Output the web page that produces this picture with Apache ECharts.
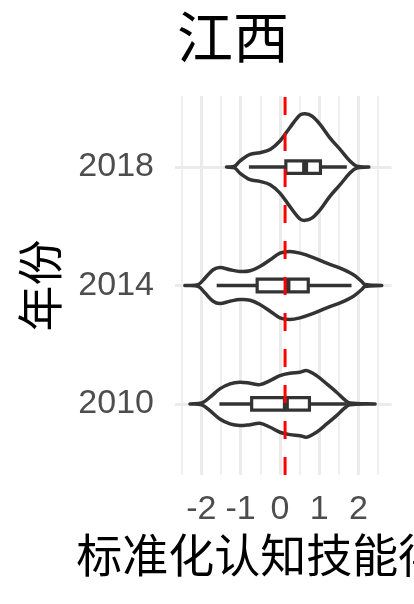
<!DOCTYPE html>
<html>
<head>
<meta charset="utf-8">
<script src="https://cdn.jsdelivr.net/npm/echarts@6/dist/echarts.min.js"></script>
<style>
html,body{margin:0;padding:0;background:#fff;}
#chart{width:414px;height:604px;}
</style>
</head>
<body>
<div id="chart"></div>
<script>
// ---- data ----
const years = ['2010', '2014', '2018'];
const yearPos = [1, 2, 3];
const titleText = '江西';
const xName = '标准化认知技能得分';
const yName = '年份';
const xTicks = [-2, -1, 0, 1, 2];
const xMinorTicks = [-2.5, -1.5, -0.5, 0.5, 1.5, 2.5];
const refValue = 0.13;

// violin outlines: score positions and half-widths (in category units)
const violinX2010 = [-2.29, -1.99, -1.78, -1.53, -1.27, -1.02, -0.76, -0.51, -0.25, 0, 0.25, 0.51, 0.68, 0.93, 1.19, 1.44, 1.65, 1.78, 2.42];
const violinW2010 = [0, 0.008, 0.057, 0.127, 0.169, 0.183, 0.175, 0.163, 0.197, 0.239, 0.259, 0.268, 0.281, 0.239, 0.169, 0.099, 0.034, 0.008, 0];
const violinX2014 = [-2.42, -2.08, -1.91, -1.70, -1.53, -1.27, -1.02, -0.76, -0.51, -0.25, 0, 0.25, 0.51, 0.85, 1.19, 1.53, 1.87, 2.08, 2.16, 2.59];
const violinW2014 = [0, 0.008, 0.062, 0.133, 0.152, 0.133, 0.118, 0.124, 0.160, 0.217, 0.273, 0.287, 0.273, 0.236, 0.188, 0.146, 0.090, 0.034, 0.008, 0];
const violinX2018 = [-1.36, -1.15, -1.02, -0.76, -0.51, -0.25, 0, 0.25, 0.51, 0.64, 0.81, 1.02, 1.27, 1.53, 1.78, 1.95, 2.26];
const violinW2018 = [0, 0.008, 0.051, 0.107, 0.121, 0.149, 0.220, 0.332, 0.439, 0.450, 0.431, 0.361, 0.247, 0.149, 0.051, 0.008, 0];

// boxplot statistics per year (2010, 2014, 2018)
const whiskerLow = [-1.54, -1.61, -0.79];
const q1 = [-0.72, -0.58, 0.15];
const median = [0.15, 0.19, 0.64];
const q3 = [0.75, 0.72, 1.03];
const whiskerHigh = [1.70, 1.82, 1.70];

// ---- chart ----
const violinX = [violinX2010, violinX2014, violinX2018];
const violinW = [violinW2010, violinW2014, violinW2018];
const boxHalf = 0.053;
const ink = '#333333';

function renderViolin(params, api) {
  const i = api.value(2);
  const c = api.value(1);
  const xs = violinX[i], ws = violinW[i];
  const top = xs.map((x, k) => api.coord([x, c + ws[k]]));
  const bot = xs.map((x, k) => api.coord([x, c - ws[k]])).reverse();
  const pts = top.concat(bot);
  const pLow = api.coord([whiskerLow[i], c]);
  const pHigh = api.coord([whiskerHigh[i], c]);
  const b1 = api.coord([q1[i], c + boxHalf]);
  const b2 = api.coord([q3[i], c - boxHalf]);
  const m1 = api.coord([median[i], c + boxHalf]);
  const m2 = api.coord([median[i], c - boxHalf]);
  return {
    type: 'group',
    children: [
      { type: 'polygon', shape: { points: pts, smooth: 0.35 },
        style: { fill: '#ffffff', stroke: ink, lineWidth: 3.5, lineJoin: 'round' } },
      { type: 'line', shape: { x1: pLow[0], y1: pLow[1], x2: pHigh[0], y2: pHigh[1] },
        style: { stroke: ink, lineWidth: 3.4 } },
      { type: 'rect', shape: { x: b1[0], y: b1[1], width: b2[0] - b1[0], height: b2[1] - b1[1] },
        style: { fill: '#ffffff', stroke: ink, lineWidth: 3.2 } },
      { type: 'line', shape: { x1: m1[0], y1: m1[1], x2: m2[0], y2: m2[1] },
        style: { stroke: ink, lineWidth: 6 } }
    ]
  };
}

const chart = echarts.init(document.getElementById('chart'), null, { renderer: 'canvas' });
const fontLatin = '"Liberation Sans", Arial, "Noto Sans CJK SC", sans-serif';
const fontCJK = '"Noto Sans CJK SC", "Liberation Sans", sans-serif';

chart.setOption({
  animation: false,
  backgroundColor: '#ffffff',
  title: {
    text: titleText, left: 172, top: 4,
    textStyle: { fontSize: 56, fontWeight: 'normal', color: '#000000', fontFamily: fontCJK }
  },
  grid: { left: 175, right: 22.4, top: 96, bottom: 129, containLabel: false, outerBoundsMode: 'none' },
  xAxis: [{
    type: 'value', min: -2.67, max: 2.84,
    name: xName, nameLocation: 'middle', nameGap: 56,
    nameTextStyle: { fontSize: 46, color: '#000000', fontFamily: fontCJK },
    axisLine: { show: false },
    axisTick: { show: false, customValues: xTicks },
    axisLabel: { customValues: xTicks, fontSize: 34, color: '#4D4D4D', margin: 18, fontFamily: fontLatin },
    splitLine: { show: true, lineStyle: { color: '#EBEBEB', width: 3 } }
  }, {
    type: 'value', min: -2.67, max: 2.84, position: 'bottom',
    axisLine: { show: false },
    axisTick: { show: false, customValues: xMinorTicks },
    axisLabel: { show: false, customValues: xMinorTicks },
    splitLine: { show: true, lineStyle: { color: '#EBEBEB', width: 1.6 } }
  }],
  yAxis: {
    type: 'value', min: 0.4, max: 3.6,
    name: yName, nameLocation: 'middle', nameGap: 112,
    nameTextStyle: { fontSize: 46, color: '#000000', fontFamily: fontCJK },
    axisLine: { show: false },
    axisTick: { show: false, customValues: yearPos },
    axisLabel: {
      customValues: yearPos, fontSize: 34, color: '#4D4D4D', margin: 21, fontFamily: fontLatin,
      formatter: v => years[yearPos.indexOf(v)]
    },
    splitLine: { show: true, lineStyle: { color: '#EBEBEB', width: 3 } }
  },
  series: [{
    type: 'custom',
    xAxisIndex: 0,
    renderItem: renderViolin,
    encode: { x: 0, y: 1 },
    data: years.map((y, i) => [median[i], yearPos[i], i]),
    z: 2
  }, {
    type: 'line',
    xAxisIndex: 0,
    data: [[refValue, 0.4], [refValue, 3.6]],
    symbol: 'none',
    lineStyle: { color: '#FF0000', width: 3, type: [18, 18] },
    z: 5
  }]
});
</script>
</body>
</html>
